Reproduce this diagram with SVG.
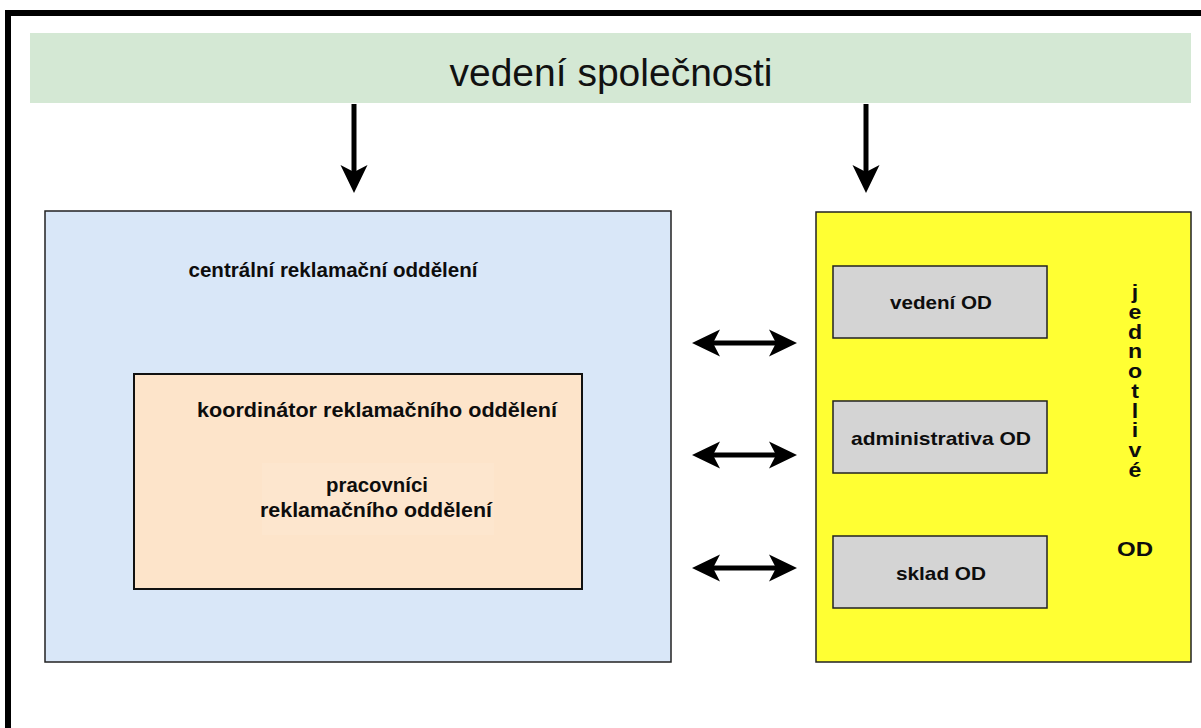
<svg xmlns="http://www.w3.org/2000/svg" width="1201" height="728" viewBox="0 0 1201 728">
  <style>
    .lbl { font-family: "Liberation Sans", Arial, sans-serif; font-weight: bold; fill: #0d0d0d; text-anchor: middle; }
    .box { stroke: #222; stroke-width: 1.5; }
    .conn { stroke: #000; stroke-width: 5; fill: none; }
    .upright { writing-mode: vertical-rl; text-orientation: upright; text-anchor: start; }
  </style>
  <defs>
    <marker id="head" viewBox="0 0 28 28" refX="7" refY="14" markerWidth="28" markerHeight="28" markerUnits="userSpaceOnUse" orient="auto-start-reverse">
      <path d="M0,0.5 L28,14 L0,27.5 L7,14 Z" fill="#000"/>
    </marker>
  </defs>

  <rect width="1201" height="728" fill="#fff"/>
  <!-- outer frame: top and left edges -->
  <path d="M8,728 V13 H1201" fill="none" stroke="#000" stroke-width="6"/>

  <g id="vedeni-spolecnosti">
    <rect x="30" y="33" width="1161" height="70" fill="#d4e8d4"/>
    <text x="611" y="86" font-family="Liberation Sans, Arial, sans-serif" font-size="39" fill="#111" text-anchor="middle">vedení společnosti</text>
  </g>

  <g id="centralni-reklamacni-oddeleni">
    <rect class="box" x="45" y="211" width="626" height="451" fill="#d9e7f8"/>
    <text class="lbl" x="333" y="277" font-size="21" textLength="289" lengthAdjust="spacingAndGlyphs">centrální reklamační oddělení</text>
  </g>

  <g id="koordinator">
    <rect x="134" y="374" width="448" height="215" fill="#fde4ca" stroke="#111" stroke-width="2"/>
    <text class="lbl" x="377" y="417" font-size="21" textLength="360" lengthAdjust="spacingAndGlyphs">koordinátor reklamačního oddělení</text>
  </g>

  <g id="pracovnici">
    <rect x="262" y="463" width="232" height="72" fill="#fde6ce"/>
    <text class="lbl" x="377" y="492" font-size="21" textLength="102" lengthAdjust="spacingAndGlyphs">pracovníci</text>
    <text class="lbl" x="376" y="517" font-size="21" textLength="232" lengthAdjust="spacingAndGlyphs">reklamačního oddělení</text>
  </g>

  <g id="jednotlive-od">
    <rect class="box" x="816" y="212" width="375" height="450" fill="#ffff33"/>
    <!-- vertical label: one column of upright letters -->
    <g transform="translate(1135 0) scale(1.1 1)">
      <text class="lbl upright" x="0" y="280" font-size="21" letter-spacing="-4">jednotlivé</text>
    </g>
    <text class="lbl" x="1135" y="556" font-size="20" textLength="36" lengthAdjust="spacingAndGlyphs">OD</text>
  </g>

  <g id="vedeni-od">
    <rect class="box" x="833" y="266" width="214" height="72" fill="#d4d4d4"/>
    <text class="lbl" x="941" y="309" font-size="19" textLength="102" lengthAdjust="spacingAndGlyphs">vedení OD</text>
  </g>

  <g id="administrativa-od">
    <rect class="box" x="833" y="401" width="214" height="72" fill="#d4d4d4"/>
    <text class="lbl" x="941" y="445" font-size="19" textLength="180" lengthAdjust="spacingAndGlyphs">administrativa OD</text>
  </g>

  <g id="sklad-od">
    <rect class="box" x="833" y="536" width="214" height="72" fill="#d4d4d4"/>
    <text class="lbl" x="941" y="580" font-size="19" textLength="90" lengthAdjust="spacingAndGlyphs">sklad OD</text>
  </g>

  <g id="connectors">
    <line class="conn" x1="354" y1="104" x2="354" y2="172" marker-end="url(#head)"/>
    <line class="conn" x1="866" y1="104" x2="866" y2="172" marker-end="url(#head)"/>
    <line class="conn" x1="713" y1="343" x2="776" y2="343" marker-start="url(#head)" marker-end="url(#head)"/>
    <line class="conn" x1="713" y1="455" x2="776" y2="455" marker-start="url(#head)" marker-end="url(#head)"/>
    <line class="conn" x1="713" y1="568" x2="776" y2="568" marker-start="url(#head)" marker-end="url(#head)"/>
  </g>
</svg>
